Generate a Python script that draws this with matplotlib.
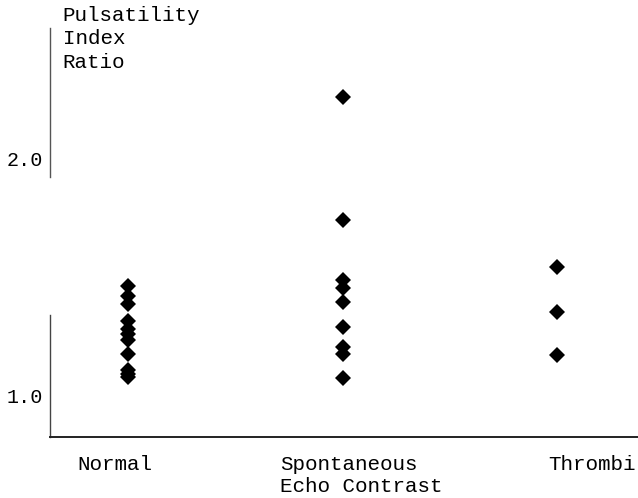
import matplotlib
matplotlib.use("Agg")
import matplotlib.pyplot as plt

# Pulsatility index ratio by group
groups = ["Normal", "Spontaneous\nEcho Contrast", "Thrombi"]
normal = [1.460, 1.418, 1.384, 1.312, 1.278, 1.257, 1.232, 1.173, 1.105, 1.089, 1.076]
sec = [2.257, 1.738, 1.485, 1.451, 1.392, 1.287, 1.203, 1.173, 1.072]
thrombi = [1.540, 1.350, 1.169]
yticks = [1.0, 2.0]
ytick_labels = ["1.0", "2.0"]

plt.rcParams["font.family"] = ["Liberation Mono", "DejaVu Sans Mono"]

fig = plt.figure(figsize=(6.38, 4.98), dpi=100)
ax = fig.add_axes([0.0784, 0.1225, 0.9216, 0.8213])

for i, vals in enumerate([normal, sec, thrombi]):
    ax.plot([i] * len(vals), vals, "D", color="black", markersize=8.5,
            markeredgewidth=0)

ax.set_xlim(-0.363, 2.377)
ax.set_ylim(0.823, 2.55)

# scanned axis: left line is broken in the original
for s in ["top", "right", "left"]:
    ax.spines[s].set_visible(False)
ax.spines["bottom"].set_linewidth(1.4)
ax.spines["bottom"].set_color("#222222")
ax.plot([-0.363, -0.363], [1.92, 2.55], color="#555555", lw=1, clip_on=False)
ax.plot([-0.363, -0.363], [0.823, 1.338], color="#444444", lw=1, clip_on=False)

ax.set_xticks([])
ax.set_yticks(yticks)
ax.set_yticklabels(ytick_labels, fontsize=14.5)
ax.tick_params(axis="y", length=0, pad=5)

ax.text(0.098, 0.988, "Pulsatility\nIndex\nRatio", transform=fig.transFigure,
        fontsize=15, va="top", ha="left", linespacing=1.3)

label_x = [0.121, 0.439, 0.860]
for lx, name in zip(label_x, groups):
    fig.text(lx, 0.087, name, fontsize=15, va="top", ha="left", linespacing=1.25)

fig.savefig("out.png", dpi=100)
